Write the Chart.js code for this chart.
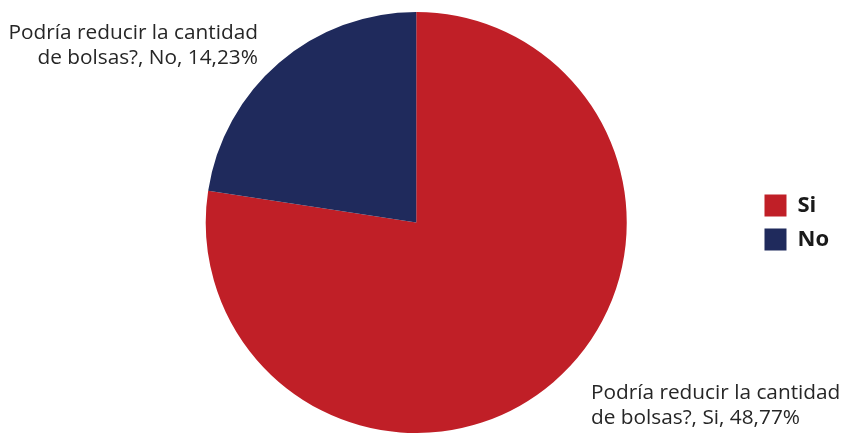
<!DOCTYPE html>
<html>
<head>
<meta charset="utf-8">
<script src="https://cdn.jsdelivr.net/npm/chart.js@4.4.0/dist/chart.umd.min.js"></script>
<style>
  html, body { margin: 0; padding: 0; background: #ffffff; }
  #wrap { width: 842px; height: 433px; position: relative; }
</style>
</head>
<body>
<div id="wrap"><canvas id="c" width="842" height="433"></canvas></div>
<script>
const categories = ["Si", "No"];
const values = [48.77, 14.23];
const valueLabels = ["48,77%", "14,23%"];
const seriesName = "Podría reducir la cantidad de bolsas?";
const colors = ["#C01F27", "#1F2A5C"];

const labelPlugin = {
  id: 'sliceLabels',
  afterDatasetsDraw(chart) {
    const ctx = chart.ctx;
    const meta = chart.getDatasetMeta(0);
    ctx.save();
    ctx.font = '20.8px "Open Sans", sans-serif';
    ctx.fillStyle = '#262626';
    ctx.textBaseline = 'alphabetic';
    meta.data.forEach((arc, i) => {
      const p = arc.getProps(['x', 'y', 'outerRadius'], true);
      const r = p.outerRadius;
      const l1 = "Podría reducir la cantidad";
      const l2 = "de bolsas?, " + categories[i] + ", " + valueLabels[i];
      if (categories[i] === "No") {
        ctx.textAlign = 'right';
        const xr = p.x - r * 0.752;
        const yb = p.y - r * 0.872;
        ctx.fillText(l1, xr, yb);
        ctx.fillText(l2, xr, yb + 25.5);
      } else {
        ctx.textAlign = 'left';
        const xl = p.x + r * 0.83;
        const yb = p.y + r * 0.84;
        ctx.fillText(l1, xl, yb);
        ctx.fillText(l2, xl, yb + 24.5);
      }
    });
    ctx.restore();
  }
};

new Chart(document.getElementById('c'), {
  type: 'pie',
  data: {
    labels: categories,
    datasets: [{
      label: seriesName,
      data: values,
      backgroundColor: colors,
      borderWidth: 0
    }]
  },
  options: {
    responsive: false,
    animation: false,
    devicePixelRatio: 1,
    layout: { padding: { left: 80, top: 12, bottom: 0, right: 3 } },
    plugins: {
      tooltip: { enabled: false },
      legend: {
        position: 'right',
        labels: {
          boxWidth: 22,
          boxHeight: 22,
          padding: 12,
          color: '#1a1a1a',
          font: { family: '"Open Sans", sans-serif', size: 22, weight: 'bold' }
        }
      }
    }
  },
  plugins: [labelPlugin]
});
</script>
</body>
</html>
